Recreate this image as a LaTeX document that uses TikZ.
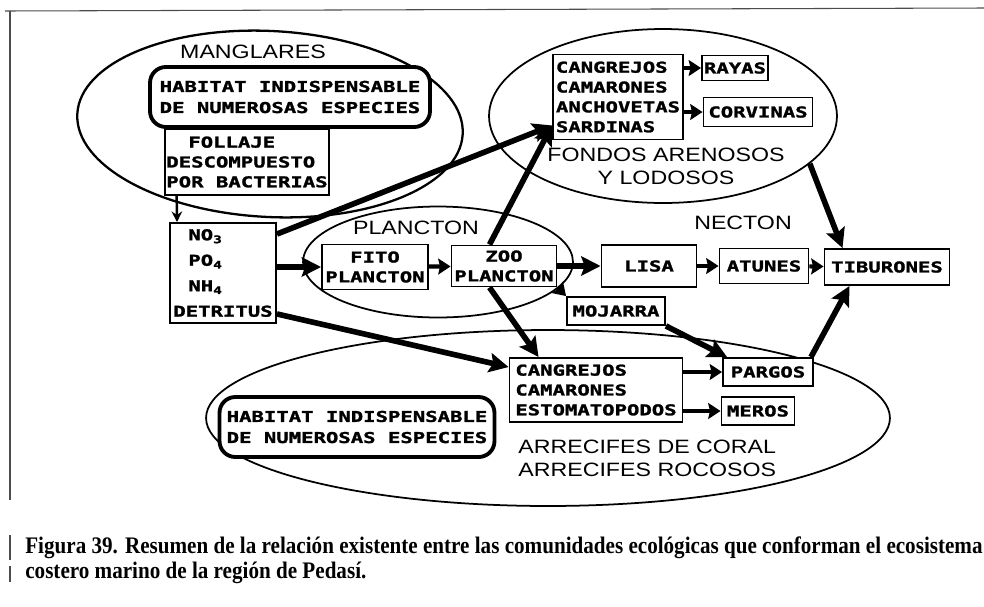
\documentclass[tikz,border=0pt]{standalone}
\usepackage{fontspec}
\usepackage{tikz}
\usetikzlibrary{arrows.meta,shapes.geometric}

\newfontfamily\fuentePixel{DejaVu Sans Mono Bold}[FakeStretch=1.38,FakeBold=1.6]
\newfontfamily\fuenteRotulo{Liberation Sans}[FakeStretch=1.2]
\newfontfamily\fuenteLeyenda{Liberation Serif Bold}[FakeStretch=0.89]

\begin{document}
\begin{tikzpicture}[
    x=0.02cm, y=-0.02cm,
    % Estilo para las cajas de texto
    caja/.style={
        draw=black,
        fill=white,
        line width=1.1pt,
        inner sep=1pt,
        align=center,
        font=\fuentePixel\fontsize{8.5}{11.3}\selectfont
    },
    % Estilo para las cajas de habitat (esquinas redondeadas)
    cajaRedonda/.style={
        caja,
        rounded corners=9pt,
        line width=2.2pt,
        font=\fuentePixel\fontsize{8.5}{12}\selectfont
    },
    % Estilo para las regiones (elipses)
    region/.style={
        ellipse,
        draw=black,
        line width=1pt,
        inner sep=0pt
    },
    % Estilo para los rotulos de las regiones
    rotulo/.style={
        inner sep=0pt,
        font=\fuenteRotulo\fontsize{11}{13.2}\selectfont
    },
    % Estilo para las flechas gruesas
    flechaGruesa/.style={
        -{Stealth[length=11pt,width=11pt,inset=2pt]},
        line width=3.2pt
    },
    % Estilo para las flechas cortas
    flechaCorta/.style={
        -{Stealth[length=7pt,width=9pt,inset=1pt]},
        line width=2.4pt
    },
    % Estilo para la flecha fina
    flechaFina/.style={
        -{Stealth[length=6pt,width=6pt]},
        line width=1.4pt
    },
    % Estilo para el marco escaneado
    marco/.style={
        draw=black!70,
        line width=0.6pt
    }
]
    \useasboundingbox (0,0) rectangle (984,606);

    % --- MARCO ---
    \draw[marco] (5,11) -- (984,8);
    \draw[marco] (10,11) -- (10,500);
    \draw[marco] (10,535) -- (10,560);
    \draw[marco] (10,566) -- (10,582);

    % --- REGIONES (elipses) ---
    \node[region, line width=1.3pt, rotate=-3, minimum width=7.72cm, minimum height=3.72cm] (manglares) at (270,124) {};
    \node[region, minimum width=6.96cm, minimum height=3.48cm] (fondos) at (663,116) {};
    \node[region, minimum width=5.4cm, minimum height=2.22cm] (plancton) at (438,262) {};
    \node[region, minimum width=13.68cm, minimum height=3.52cm] (arrecifes) at (548,418) {};

    % --- ROTULOS ---
    \node[rotulo] (rManglares) at (253,52) {MANGLARES};
    \node[rotulo] (rPlancton) at (416,228) {PLANCTON};
    \node[rotulo] (rNecton) at (743,223) {NECTON};
    \node[rotulo, align=center] (rFondos) at (666,166) {FONDOS ARENOSOS\\Y LODOSOS};
    \node[rotulo, align=left, anchor=west] (rArrecifes) at (518,458) {ARRECIFES DE CORAL\\ARRECIFES ROCOSOS};

    % --- MANGLARES ---
    \node[cajaRedonda, minimum width=5.6cm, minimum height=1.2cm] (habitatM) at (290,97) {HABITAT INDISPENSABLE\\DE NUMEROSAS ESPECIES};
    \node[caja, align=left, minimum width=3.28cm, minimum height=1.32cm] (follaje) at (247,162) {\hspace*{0.44cm}FOLLAJE\\DESCOMPUESTO\\POR BACTERIAS};
    \node[caja, align=left, minimum width=2.12cm, minimum height=2cm, font=\fuentePixel\fontsize{8.5}{14.5}\selectfont] (nutrientes) at (223,273)
        {\hspace*{0.3cm}NO\textsubscript{3}\\\hspace*{0.3cm}PO\textsubscript{4}\\\hspace*{0.3cm}NH\textsubscript{4}\\DETRITUS};

    % --- PLANCTON ---
    \node[caja, minimum width=2.12cm, minimum height=0.9cm] (fito) at (375,267) {FITO\\PLANCTON};
    \node[caja, minimum width=2.1cm, minimum height=0.82cm] (zoo) at (504,266) {ZOO\\PLANCTON};

    % --- FONDOS ARENOSOS ---
    \node[caja, align=left, minimum width=2.6cm, minimum height=1.7cm] (crustFondo) at (618,97) {CANGREJOS\\CAMARONES\\ANCHOVETAS\\SARDINAS};
    \node[caja, minimum width=1.32cm, minimum height=0.5cm] (rayas) at (735,68) {RAYAS};
    \node[caja, minimum width=2.18cm, minimum height=0.58cm] (corvinas) at (758,112) {CORVINAS};

    % --- NECTON ---
    \node[caja, minimum width=1.9cm, minimum height=0.84cm] (lisa) at (649,266) {LISA};
    \node[caja, minimum width=1.78cm, minimum height=0.7cm] (atunes) at (764,266) {ATUNES};
    \node[caja, minimum width=2.5cm, minimum height=0.72cm] (tiburones) at (887,267) {TIBURONES};
    \node[caja, minimum width=1.96cm, minimum height=0.56cm] (mojarra) at (616,311) {MOJARRA};

    % --- ARRECIFES ---
    \node[caja, align=left, minimum width=3.46cm, minimum height=1.28cm] (crustArrecife) at (596,390) {CANGREJOS\\CAMARONES\\ESTOMATOPODOS};
    \node[caja, minimum width=1.8cm, minimum height=0.56cm] (pargos) at (768,372) {PARGOS};
    \node[caja, minimum width=1.46cm, minimum height=0.56cm] (meros) at (758,411) {MEROS};
    \node[cajaRedonda, minimum width=5.5cm, minimum height=1.2cm] (habitatA) at (357,427) {HABITAT INDISPENSABLE\\DE NUMEROSAS ESPECIES};

    % --- FLECHAS ---
    \draw[flechaFina] ([xshift=0.26cm]follaje.south west) -- ([xshift=0.16cm]nutrientes.north west);
    \draw[flechaGruesa] ([yshift=-0.24cm]nutrientes.north east) -- ([yshift=0.3cm]crustFondo.south west);
    \draw[flechaGruesa] ([xshift=-0.29cm]zoo.north) -- ([yshift=0.3cm]crustFondo.south west);
    \draw[flechaGruesa] (nutrientes.east |- fito.west) -- (fito.west);
    \draw[flechaCorta] (fito) -- (zoo);
    \draw[flechaGruesa] (zoo) -- (lisa);
    \draw[flechaCorta] (lisa) -- (atunes);
    \draw[flechaCorta] (atunes) -- (tiburones);
    \draw[flechaCorta] (zoo.south east) -- (mojarra.north west);
    \draw[flechaGruesa] ([xshift=-0.29cm]zoo.south) -- ([xshift=0.6cm]crustArrecife.north west);
    \draw[flechaGruesa] ([yshift=0.2cm]nutrientes.south east) -- ([yshift=-0.2cm]crustArrecife.north west);
    \draw[flechaCorta] (crustFondo.east |- rayas.west) -- (rayas.west);
    \draw[flechaCorta] (crustFondo.east |- corvinas.west) -- (corvinas.west);
    \draw[flechaCorta] (crustArrecife.east |- pargos.west) -- (pargos.west);
    \draw[flechaCorta] (crustArrecife.east |- meros.west) -- (meros.west);
    \draw[flechaGruesa] (mojarra.south east) -- ([xshift=0.1cm]pargos.north west);
    \draw[flechaGruesa] ([xshift=-0.06cm]pargos.north east) -- ([xshift=-0.75cm]tiburones.south);
    \draw[flechaGruesa] (fondos.-18) -- ([xshift=-0.89cm]tiburones.north);

    % --- LEYENDA ---
    \node[anchor=north west, align=left, inner sep=0pt, font=\fuenteLeyenda\fontsize{13.5}{14.2}\selectfont] (leyenda) at (25,536)
        {Figura 39. Resumen de la relación existente entre las comunidades ecológicas que conforman el ecosistema\\costero marino de la región de Pedasí.};

\end{tikzpicture}
\end{document}
